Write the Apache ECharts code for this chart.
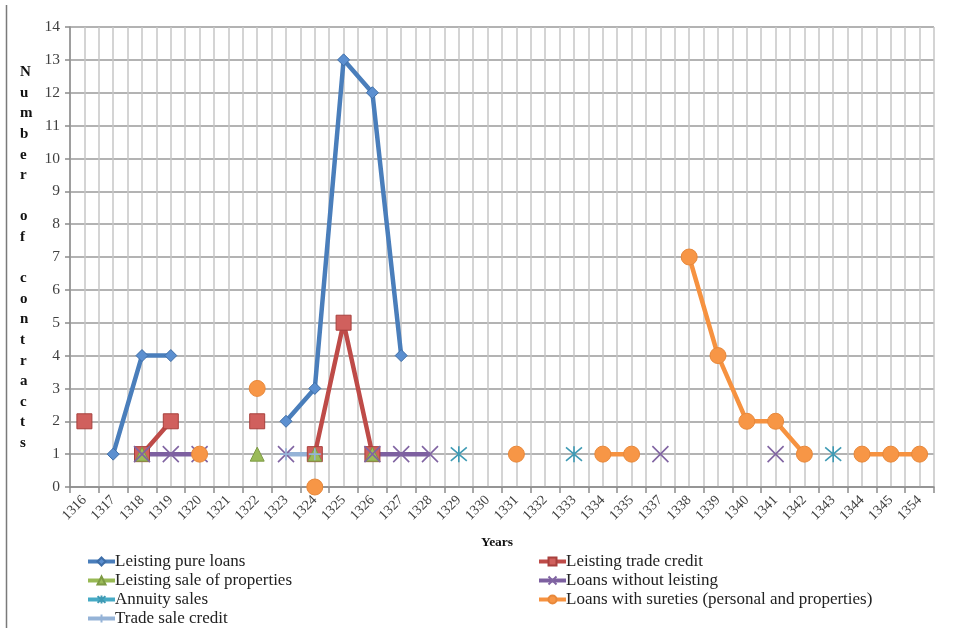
<!DOCTYPE html>
<html>
<head>
<meta charset="utf-8">
<title>Number of contracts by year</title>
<script src="https://cdn.jsdelivr.net/npm/echarts@6/dist/echarts.min.js"></script>
<style>
  html, body { margin: 0; padding: 0; background: #ffffff; }
  #chart { width: 957px; height: 628px; }
</style>
</head>
<body>
<div id="chart"></div>
<script>
// Years on the category axis
const years = ['1316','1317','1318','1319','1320','1321','1322','1323','1324','1325',
               '1326','1327','1328','1329','1330','1331','1332','1333','1334','1335',
               '1337','1338','1339','1340','1341','1342','1343','1344','1345','1354'];

// Number of contracts per year for each contract type (null = none recorded)
const _ = null;
const leistingPureLoans =      [_, 1, 4, 4, _, _, _, 2, 3,13,12, 4, _, _, _, _, _, _, _, _, _, _, _, _, _, _, _, _, _, _];
const leistingTradeCredit =    [2, _, 1, 2, _, _, 2, _, 1, 5, 1, _, _, _, _, _, _, _, _, _, _, _, _, _, _, _, _, _, _, _];
const leistingSaleProperties = [_, _, 1, _, _, _, 1, _, 1, _, 1, _, _, _, _, _, _, _, _, _, _, _, _, _, _, _, _, _, _, _];
const loansWithoutLeisting =   [_, _, 1, 1, 1, _, _, 1, _, _, 1, 1, 1, _, _, _, _, _, _, _, 1, _, _, _, 1, _, _, _, _, _];
const annuitySales =           [_, _, _, _, _, _, _, _, _, _, _, _, _, 1, _, _, _, 1, _, _, _, _, _, _, _, _, 1, _, _, _];
const loansWithSureties =      [_, _, _, _, 1, _, 3, _, 0, _, _, _, _, _, _, 1, _, _, 1, 1, _, 7, 4, 2, 2, 1, _, 1, 1, 1];
const tradeSaleCredit =        [_, _, _, _, _, _, _, 1, 1, _, _, _, _, _, _, _, _, _, _, _, _, _, _, _, _, _, _, _, _, _];

const yTicks = { min: 0, max: 14, step: 1 };

const serif = '"Liberation Serif", "DejaVu Serif", serif';

const crossPath = 'path://M0,0L10,10M10,0L0,10';
const starPath = 'path://M0,0L10,10M10,0L0,10M5,-1L5,11';
const plusPath = 'path://M5,0L5,10M0,5L10,5';

function lineSeries(name, data, color, symbol, size, extra) {
  return Object.assign({
    name: name,
    type: 'line',
    data: data,
    xAxisIndex: 0,
    yAxisIndex: 0,
    symbol: symbol,
    symbolSize: size,
    connectNulls: false,
    lineStyle: { color: color, width: 4.5 },
    itemStyle: { color: color, borderColor: color, borderWidth: 1 },
    emphasis: { disabled: true },
    animation: false
  }, extra || {});
}

const strokeOnly = (color) => ({ itemStyle: { color: color, borderColor: color, borderWidth: 1.6 } });

const legendText = { fontFamily: serif, fontSize: 17, color: '#222222', lineHeight: 19 };

const chart = echarts.init(document.getElementById('chart'), null, { renderer: 'canvas' });

chart.setOption({
  backgroundColor: '#ffffff',
  animation: false,
  grid: { left: 70, right: 23, top: 27, bottom: 141, containLabel: false },
  xAxis: [
    {
      type: 'category',
      data: years,
      boundaryGap: true,
      axisLine: { show: true, lineStyle: { color: '#8c8c8c', width: 1.5 } },
      axisTick: { show: true, length: 6, interval: 0, lineStyle: { color: '#8c8c8c', width: 1.5 } },
      axisLabel: {
        interval: 0, rotate: 45, margin: 11,
        fontFamily: serif, fontSize: 14, color: '#404040'
      },
      splitLine: { show: false }
    },
    {
      // half-year vertical grid
      type: 'value',
      min: 0, max: 60, interval: 1,
      position: 'bottom',
      axisLine: { show: false },
      axisTick: { show: false },
      axisLabel: { show: false },
      splitLine: { show: true, lineStyle: { color: '#c6c6c6', width: 1.5 } }
    }
  ],
  yAxis: {
    type: 'value',
    min: yTicks.min, max: yTicks.max, interval: yTicks.step,
    axisLine: { show: true, lineStyle: { color: '#8c8c8c', width: 1.5 } },
    axisTick: { show: true, length: 5, lineStyle: { color: '#8c8c8c', width: 1.5 } },
    axisLabel: { fontFamily: serif, fontSize: 15.5, color: '#404040', margin: 10 },
    splitLine: { show: true, lineStyle: { color: '#9a9a9a', width: 1.5 } }
  },
  legend: [
    {
      orient: 'vertical',
      left: 86, top: 552, padding: 0,
      itemWidth: 27, itemHeight: 10, itemGap: 0,
      lineStyle: { width: 4 },
      textStyle: Object.assign({ padding: [0, 0, 0, -5] }, legendText),
      data: ['Leisting pure loans', 'Leisting sale of properties', 'Annuity sales', 'Trade sale credit']
    },
    {
      orient: 'vertical',
      left: 537, top: 552, padding: 0,
      itemWidth: 27, itemHeight: 10, itemGap: 0,
      lineStyle: { width: 4 },
      textStyle: Object.assign({ padding: [0, 0, 0, -5] }, legendText),
      data: ['Leisting trade credit', 'Loans without leisting', 'Loans with sureties (personal and properties)']
    }
  ],
  graphic: [
    {
      type: 'line',
      shape: { x1: 6.5, y1: 5, x2: 6.5, y2: 628 },
      style: { stroke: '#7a7a7a', lineWidth: 1.5 },
      silent: true
    },
    {
      type: 'text',
      left: 20, top: 62,
      style: {
        text: 'N\nu\nm\nb\ne\nr\n\no\nf\n\nc\no\nn\nt\nr\na\nc\nt\ns',
        font: 'bold 15px ' + serif,
        fill: '#111111',
        align: 'center',
        lineHeight: 20.6,
        width: 17
      },
      silent: true
    },
    {
      type: 'text',
      x: 497, y: 543,
      style: {
        text: 'Years',
        font: 'bold 13.5px ' + serif,
        fill: '#111111',
        align: 'center',
        verticalAlign: 'middle'
      },
      silent: true
    }
  ],
  series: [
    lineSeries('Leisting pure loans', leistingPureLoans, '#4A7EBB', 'diamond', 12,
      { itemStyle: { color: '#5B8FD0', borderColor: '#3E6EA8', borderWidth: 1 } }),
    lineSeries('Leisting trade credit', leistingTradeCredit, '#BE4B48', 'rect', 15,
      { itemStyle: { color: '#D0605D', borderColor: '#A8403D', borderWidth: 1 } }),
    lineSeries('Leisting sale of properties', leistingSaleProperties, '#98B954', 'triangle', 14,
      { itemStyle: { color: '#9BBB59', borderColor: '#7D9A44', borderWidth: 1 } }),
    lineSeries('Loans without leisting', loansWithoutLeisting, '#7D60A0', crossPath, 16, strokeOnly('#8064A2')),
    lineSeries('Annuity sales', annuitySales, '#46AAC5', starPath, 16, strokeOnly('#3E9AB4')),
    lineSeries('Loans with sureties (personal and properties)', loansWithSureties, '#F69240', 'circle', 16,
      { itemStyle: { color: '#F79646', borderColor: '#E8883A', borderWidth: 1 } }),
    lineSeries('Trade sale credit', tradeSaleCredit, '#95B3D7', plusPath, 12, strokeOnly('#95B3D7'))
  ]
});
</script>
</body>
</html>
